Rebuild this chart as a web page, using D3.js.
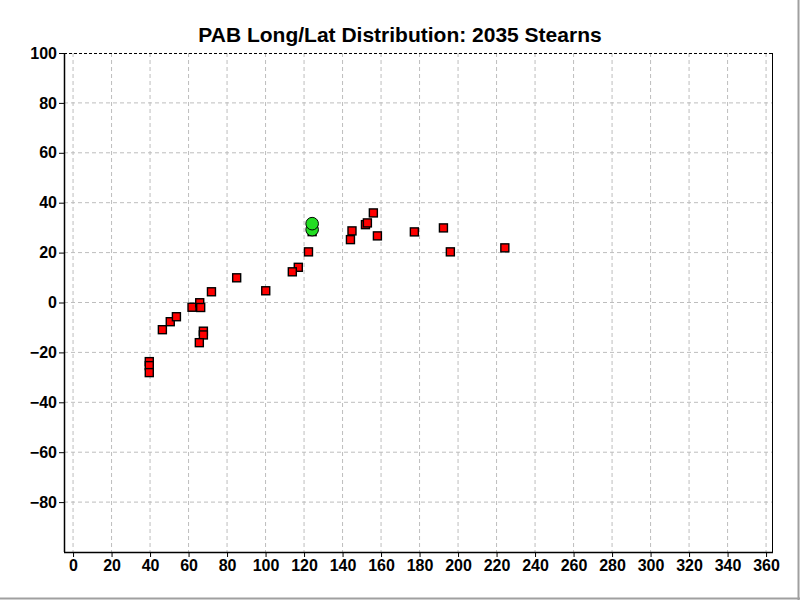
<!DOCTYPE html>
<html><head><meta charset="utf-8">
<script src="https://cdn.jsdelivr.net/npm/d3@7"></script>
<style>body{margin:0;background:#fff}svg{display:block}text{font-family:"Liberation Sans",Arial,sans-serif;font-weight:bold}</style>
</head><body>
<script>
const titleText = "PAB Long/Lat Distribution: 2035 Stearns";
const xTicks = [0,20,40,60,80,100,120,140,160,180,200,220,240,260,280,300,320,340,360];
const yTicks = [-80,-60,-40,-20,0,20,40,60,80,100];
// red squares: longitude, latitude
const redLong = [39.6,39.6,39.6,46.4,50.5,53.7,67.7,67.7,65.6,85.0,71.9,61.8,65.8,66.3,100.1,124.2,122.3,117.0,113.9,156.0,151.9,152.9,144.9,144.1,158.1,192.4,196.0,224.3,177.3];
const redLat  = [-23.7,-25.3,-28.1,-10.9,-7.7,-5.7,-11.5,-13.0,-16.1,9.9,4.3,-1.9,-0.1,-2.0,4.7,28.4,20.3,14.1,12.3,35.9,31.2,31.9,28.7,25.2,26.7,29.9,20.3,21.9,28.3];
// green circles
const greenLong = [124.2,124.2];
const greenLat = [29.2,31.6];

const W=800,H=600;
const svg=d3.select("body").append("svg").attr("width",W).attr("height",H);
const x=d3.scaleLinear().domain([-4.7,363.6]).range([64,773]);
const y=d3.scaleLinear().domain([-100,100]).range([552,53]);

// grid
svg.append("g").selectAll("line").data(xTicks).join("line")
 .attr("x1",d=>x(d)).attr("x2",d=>x(d)).attr("y1",53).attr("y2",552)
 .attr("stroke","#bdbdbd").attr("stroke-dasharray","4,3");
svg.append("g").selectAll("line").data(yTicks.filter(d=>d<100)).join("line")
 .attr("y1",d=>y(d)).attr("y2",d=>y(d)).attr("x1",64).attr("x2",773)
 .attr("stroke","#bdbdbd").attr("stroke-dasharray","4,3");
// top dashed
svg.append("line").attr("x1",64).attr("x2",773).attr("y1",53.5).attr("y2",53.5).attr("stroke","#000").attr("stroke-dasharray","3,2");
svg.append("line").attr("x1",772.5).attr("x2",772.5).attr("y1",53).attr("y2",552).attr("stroke","#000");

// axes
const xAxis=d3.axisBottom(x).tickValues(xTicks).tickSize(5).tickPadding(3);
const gx=svg.append("g").attr("transform","translate(0,552)").call(xAxis);
gx.select(".domain").attr("d","M64,0.5H773").attr("stroke","#000").attr("stroke-width",1.5);
gx.selectAll("text").attr("font-size",16).attr("fill","#000").style("font-family","'Liberation Sans',Arial,sans-serif").style("font-weight","bold");
const yAxis=d3.axisLeft(y).tickValues(yTicks).tickSize(5).tickPadding(2);
const gy=svg.append("g").attr("transform","translate(64,0)").call(yAxis);
gy.select(".domain").attr("d","M0.5,53V552").attr("stroke","#000").attr("stroke-width",1.5);
gy.selectAll("text").attr("font-size",16).attr("fill","#000").style("font-family","'Liberation Sans',Arial,sans-serif").style("font-weight","bold");

// points
const red=redLong.map((d,i)=>({lo:d,la:redLat[i]}));
svg.append("g").selectAll("rect").data(red).join("rect")
 .attr("x",d=>x(d.lo)-4).attr("y",d=>y(d.la)-4).attr("width",8).attr("height",8)
 .attr("fill","#ff0000").attr("stroke","#000").attr("stroke-width",1.4);
const green=greenLong.map((d,i)=>({lo:d,la:greenLat[i]}));
svg.append("g").selectAll("circle").data(green).join("circle")
 .attr("cx",d=>x(d.lo)).attr("cy",d=>y(d.la)).attr("r",6.3)
 .attr("fill","#22dd22").attr("stroke","#000").attr("stroke-width",1);

// title
svg.append("text").attr("x",400).attr("y",42).attr("text-anchor","middle").attr("font-size",21).text(titleText);
// outer frame
svg.append("line").attr("x1",798.5).attr("x2",798.5).attr("y1",0).attr("y2",600).attr("stroke","#a0a0a0").attr("stroke-width",2);
svg.append("line").attr("x1",0).attr("x2",800).attr("y1",598.5).attr("y2",598.5).attr("stroke","#a0a0a0").attr("stroke-width",2);
</script>
</body></html>
